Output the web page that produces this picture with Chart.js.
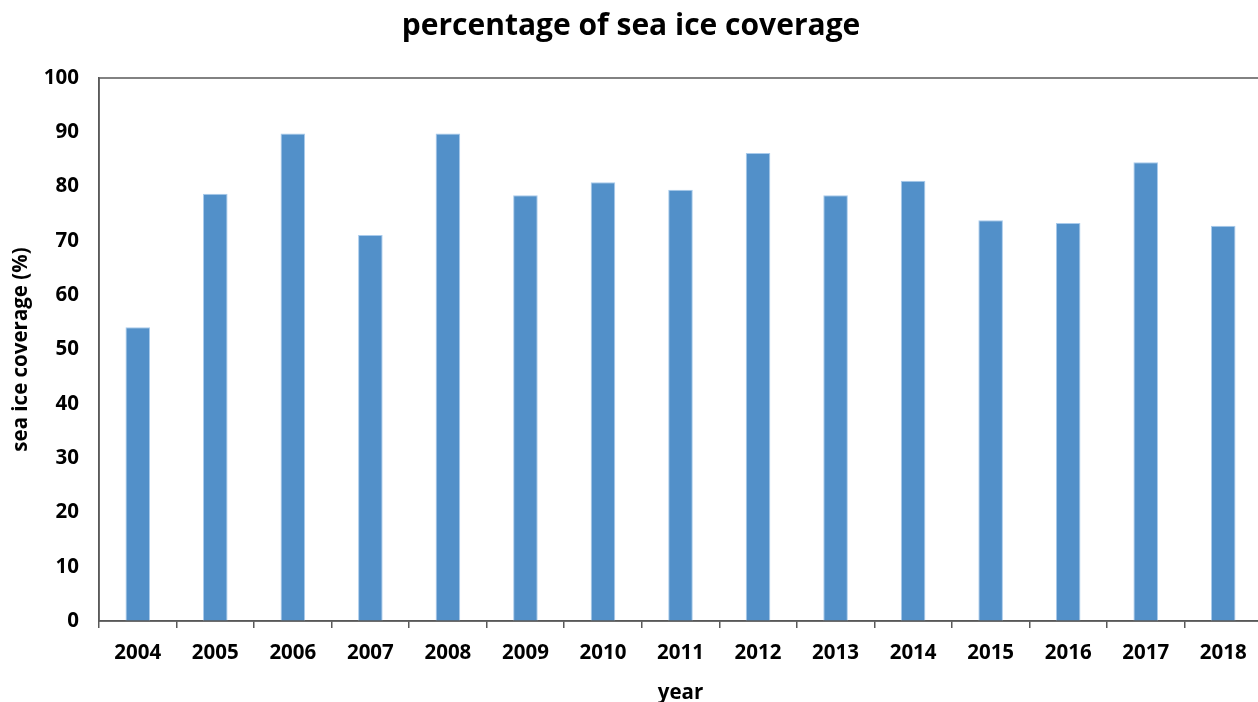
<!DOCTYPE html>
<html>
<head>
<meta charset="utf-8">
<script src="https://cdn.jsdelivr.net/npm/chart.js@4/dist/chart.umd.min.js"></script>
<style>
  html, body { margin: 0; padding: 0; background: #fff; overflow: hidden; }
  #wrap { position: relative; width: 1262px; height: 702px; }
</style>
</head>
<body>
<div id="wrap"><canvas id="c"></canvas></div>
<script>
const years = ['2004','2005','2006','2007','2008','2009','2010','2011','2012','2013','2014','2015','2016','2017','2018'];
const seaIceCoverage = [54.1, 78.7, 89.8, 71.1, 89.8, 78.4, 80.8, 79.4, 86.2, 78.4, 81.1, 73.8, 73.3, 84.5, 72.8];
const titleText = 'percentage of sea ice coverage';
const xTitle = 'year';
const yTitle = 'sea ice coverage (%)';

const FONT = "'Open Sans', 'DejaVu Sans', sans-serif";
const AXIS = '#595959';

const frame = {
  id: 'frame',
  afterDraw(chart) {
    const {ctx, chartArea: a} = chart;
    ctx.save();
    ctx.strokeStyle = AXIS;
    ctx.lineWidth = 1.5;
    ctx.strokeRect(a.left, a.top, a.right - a.left, a.bottom - a.top);
    ctx.restore();
  }
};

new Chart(document.getElementById('c'), {
  type: 'bar',
  data: {
    labels: years,
    datasets: [{
      data: seaIceCoverage,
      backgroundColor: '#5290C9',
      borderColor: '#A9CBEC',
      borderWidth: 1,
      barPercentage: 0.317,
      categoryPercentage: 1.0
    }]
  },
  options: {
    responsive: true,
    maintainAspectRatio: false,
    animation: false,
    devicePixelRatio: 1,
    layout: { padding: 0 },
    plugins: {
      legend: { display: false },
      tooltip: { enabled: false },
      title: {
        display: true,
        text: titleText,
        color: '#000',
        font: { family: FONT, size: 30, weight: 'bold', lineHeight: 1.2 },
        padding: { top: 8, bottom: 34 }
      }
    },
    scales: {
      x: {
        grid: { display: true, offset: true, drawOnChartArea: false, drawTicks: true, tickLength: 7, color: AXIS, tickColor: AXIS, lineWidth: 1.5 },
        border: { display: true, color: AXIS, width: 1.5 },
        ticks: { color: '#000', font: { family: FONT, size: 20.5, weight: 'bold', lineHeight: 1.2 }, padding: 13, maxRotation: 0, autoSkip: false },
        title: { display: true, text: xTitle, color: '#000', font: { family: FONT, size: 20.5, weight: 'bold', lineHeight: 1.2 }, padding: { top: 0, bottom: -3 } },
        afterFit(scale) { scale.height = 81; }
      },
      y: {
        min: 0, max: 100,
        grid: { display: false, drawTicks: false },
        border: { display: true, color: AXIS, width: 1.5 },
        ticks: { stepSize: 10, color: '#000', font: { family: FONT, size: 20.5, weight: 'bold' }, padding: 20 },
        title: { display: true, text: yTitle, color: '#000', font: { family: FONT, size: 20.5, weight: 'bold', lineHeight: 1.2 }, padding: { top: 9, bottom: 0 } },
        afterFit(scale) { scale.width = 99; }
      }
    }
  },
  plugins: [frame]
});
</script>
</body>
</html>
